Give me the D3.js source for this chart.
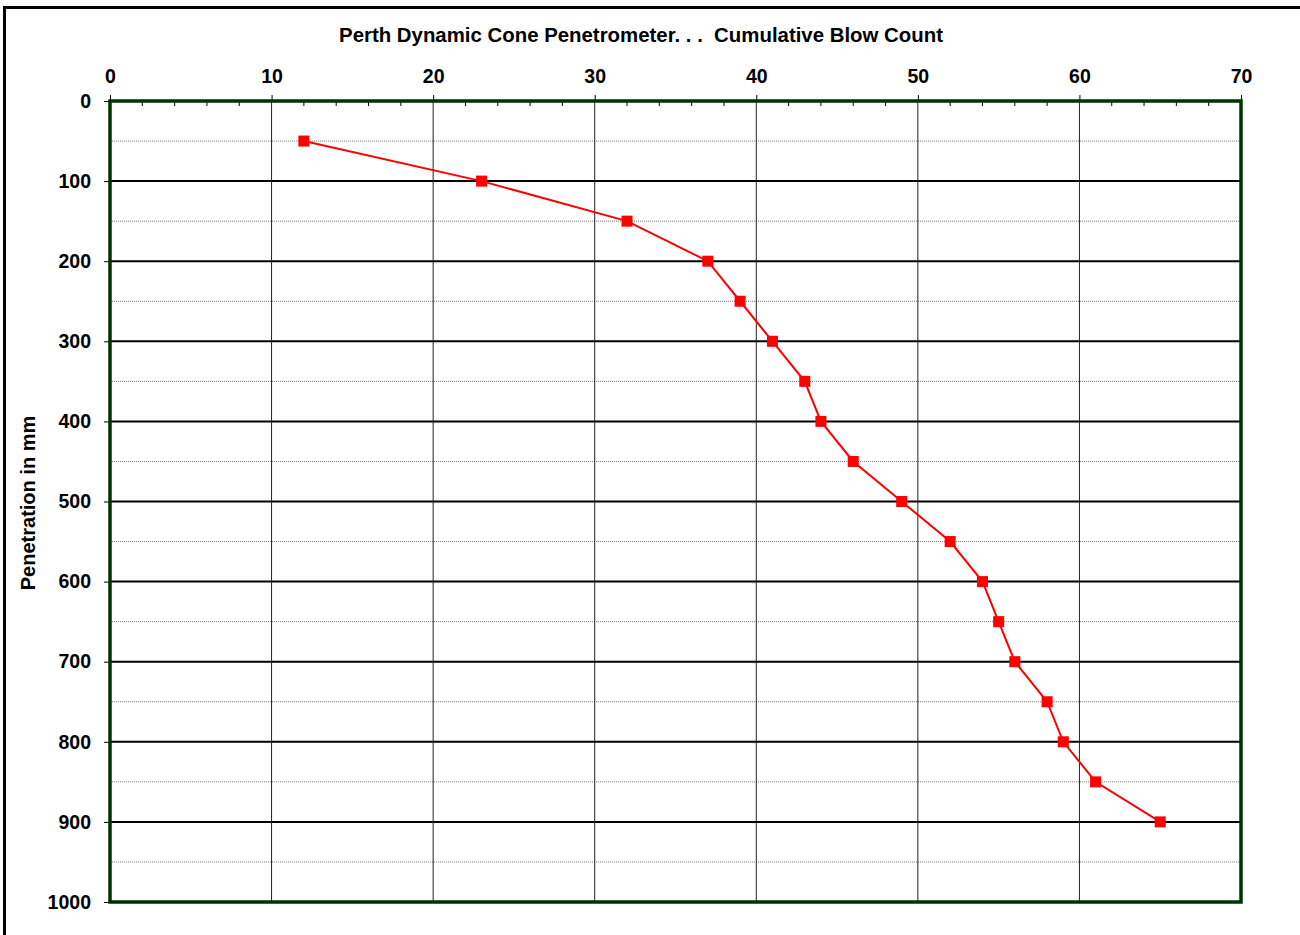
<!DOCTYPE html>
<html>
<head>
<meta charset="utf-8">
<script src="https://cdn.jsdelivr.net/npm/d3@7"></script>
<style>
  html, body { margin: 0; padding: 0; background: #fff; }
  svg { display: block; font-family: "Liberation Sans", Arial, sans-serif; }
</style>
</head>
<body>
<svg id="chart" width="1300" height="935"></svg>
<script>
// Cumulative blow count against penetration depth
const blowCount   = [12, 23, 32, 37, 39, 41, 43, 44, 46, 49, 52, 54, 55, 56, 58, 59, 61, 65];
const penetration = [50, 100, 150, 200, 250, 300, 350, 400, 450, 500, 550, 600, 650, 700, 750, 800, 850, 900];
const xTicks = [0, 10, 20, 30, 40, 50, 60, 70];
const yTicks = [0, 100, 200, 300, 400, 500, 600, 700, 800, 900, 1000];
const yMinorTicks = [50, 150, 250, 350, 450, 550, 650, 750, 850, 950];
const xMinorTicks = d3.range(0, 71, 2);

const svg = d3.select("#chart");
const plotL = 110, plotR = 1241, plotT = 101, plotB = 902;
const labelSize = 19.5;

const x = d3.scaleLinear().domain([0, 70]).range([plotL, plotR]);
const y = d3.scaleLinear().domain([0, 1000]).range([plotT, plotB]);

// outer chart border (extends beyond the visible page on right and bottom)
svg.append("rect")
  .attr("x", 4.5).attr("y", 7.5).attr("width", 1400).attr("height", 1000)
  .attr("fill", "none").attr("stroke", "#000").attr("stroke-width", 3);

// title
svg.append("text")
  .attr("x", 641).attr("y", 42)
  .attr("text-anchor", "middle")
  .attr("font-size", 20.4).attr("font-weight", "bold")
  .style("white-space", "pre")
  .text("Perth Dynamic Cone Penetrometer. . .  Cumulative Blow Count");

// minor horizontal gridlines (dotted)
svg.append("g").selectAll("line").data(yMinorTicks).join("line")
  .attr("x1", plotL).attr("x2", plotR)
  .attr("y1", d => y(d)).attr("y2", d => y(d))
  .attr("stroke", "#777").attr("stroke-width", 1)
  .attr("stroke-dasharray", "1,1");

// major horizontal gridlines
svg.append("g").selectAll("line").data(yTicks.slice(1, -1)).join("line")
  .attr("x1", plotL).attr("x2", plotR)
  .attr("y1", d => y(d)).attr("y2", d => y(d))
  .attr("stroke", "#000").attr("stroke-width", 2);

// vertical gridlines
svg.append("g").selectAll("line").data(xTicks.slice(1, -1)).join("line")
  .attr("x1", d => x(d)).attr("x2", d => x(d))
  .attr("y1", plotT).attr("y2", plotB)
  .attr("stroke", "#222").attr("stroke-width", 1);

// top axis
const xAxis = d3.axisTop(x).tickValues(xTicks).tickSize(6).tickPadding(12).tickFormat(d3.format("d"));
const gx = svg.append("g").attr("transform", `translate(0,${plotT})`).call(xAxis);
gx.select(".domain").remove();
gx.selectAll(".tick line").attr("stroke", "#000");
gx.selectAll("text").attr("font-size", labelSize).attr("font-weight", "bold")
  .attr("font-family", "'Liberation Sans', Arial, sans-serif").attr("fill", "#000");

// minor ticks along top edge pointing inward
svg.append("g").selectAll("line").data(xMinorTicks.filter(d => d % 10 !== 0)).join("line")
  .attr("x1", d => x(d)).attr("x2", d => x(d))
  .attr("y1", plotT).attr("y2", plotT + 5)
  .attr("stroke", "#000").attr("stroke-width", 1);

// left axis
const yAxis = d3.axisLeft(y).tickValues(yTicks).tickSize(6).tickPadding(13).tickFormat(d3.format("d"));
const gy = svg.append("g").attr("transform", `translate(${plotL},0)`).call(yAxis);
gy.select(".domain").remove();
gy.selectAll(".tick line").attr("stroke", "#000");
gy.selectAll("text").attr("font-size", labelSize).attr("font-weight", "bold")
  .attr("font-family", "'Liberation Sans', Arial, sans-serif").attr("fill", "#000");

// plot frame
svg.append("rect")
  .attr("x", plotL).attr("y", plotT).attr("width", plotR - plotL).attr("height", plotB - plotT)
  .attr("fill", "none").attr("stroke", "#003300").attr("stroke-width", 3.5);

// y-axis title
svg.append("text")
  .attr("transform", "translate(35,503) rotate(-90)")
  .attr("text-anchor", "middle")
  .attr("font-size", 20).attr("font-weight", "bold")
  .text("Penetration in mm");

// data line
const pts = blowCount.map((b, i) => [b, penetration[i]]);
svg.append("path")
  .datum(pts)
  .attr("fill", "none").attr("stroke", "#ff0000").attr("stroke-width", 2)
  .attr("d", d3.line().x(d => x(d[0])).y(d => y(d[1])));

// square markers
const m = 11;
svg.append("g").selectAll("rect").data(pts).join("rect")
  .attr("x", d => x(d[0]) - m / 2).attr("y", d => y(d[1]) - m / 2)
  .attr("width", m).attr("height", m)
  .attr("fill", "#ff0000");
</script>
</body>
</html>
